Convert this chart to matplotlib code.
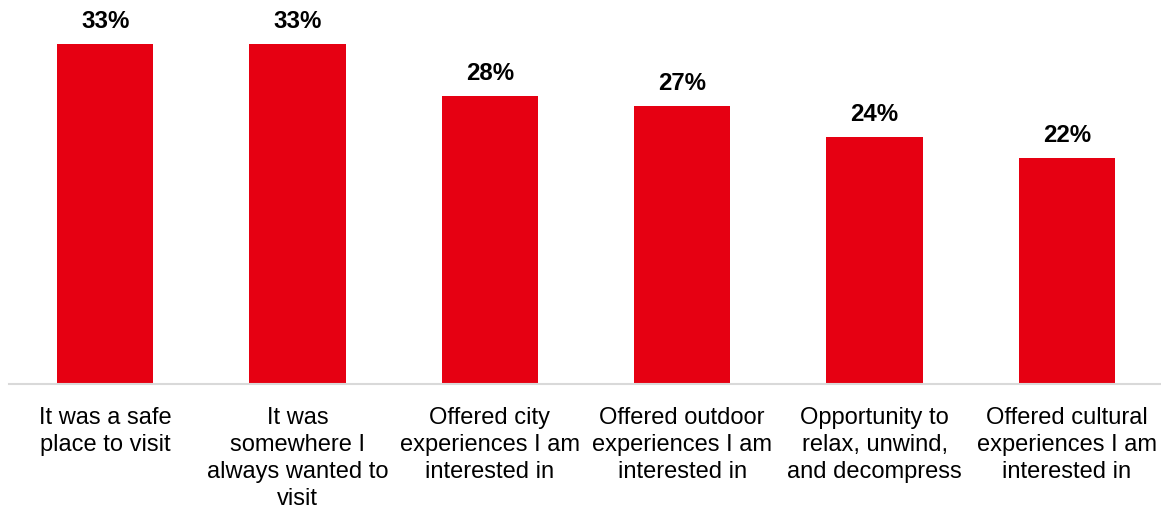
import matplotlib.pyplot as plt
import numpy as np

plt.rcParams["font.family"] = ["Liberation Sans", "DejaVu Sans"]

# ---- Data ----------------------------------------------------------------
categories = [
    "It was a safe\nplace to visit",
    "It was\nsomewhere I\nalways wanted to\nvisit",
    "Offered city\nexperiences I am\ninterested in",
    "Offered outdoor\nexperiences I am\ninterested in",
    "Opportunity to\nrelax, unwind,\nand decompress",
    "Offered cultural\nexperiences I am\ninterested in",
]
values = [33, 33, 28, 27, 24, 22]   # percent

BAR_COLOR = "#E60012"

# ---- Figure setup --------------------------------------------------------
fig = plt.figure(figsize=(11.61, 5.10), dpi=100)
ax = fig.add_axes([0.0078, 0.245, 0.994, 0.755])

x = np.arange(len(categories))
ax.bar(x, values, width=0.5, color=BAR_COLOR)

for xi, v in zip(x, values):
    ax.annotate(f"{v}%", xy=(xi, v), xytext=(0, 8.5),
                textcoords="offset points", ha="center", va="bottom",
                fontsize=17.3, fontweight="bold")

ax.set_xlim(-0.5, len(categories) - 0.5)
ax.set_ylim(0, 37.4)
ax.set_xticks(x)
ax.set_xticklabels(categories, fontsize=17, linespacing=1.3)
ax.tick_params(axis="x", length=0, pad=15.5)
ax.set_yticks([])

for spine in ("top", "right", "left"):
    ax.spines[spine].set_visible(False)
ax.spines["bottom"].set_color("#D9D9D9")
ax.spines["bottom"].set_linewidth(1.5)

plt.savefig("out.png", dpi=100)
